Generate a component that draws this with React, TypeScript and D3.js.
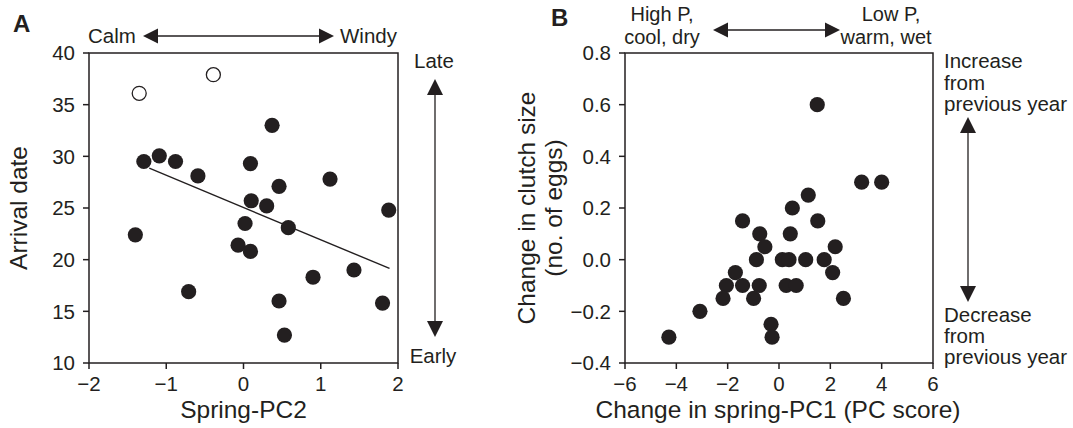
import React from "react";
import * as d3 from "d3";

// Panel A data: Spring-PC2 vs arrival date
const aFilledX = [-1.29, -1.09, -0.88, -0.59, 0.09, 0.37, 0.46, 1.12, 0.1, 0.3, 1.88, 0.02, 0.58, -0.07, 0.09, -1.4, -0.71, 0.9, 1.43, 0.46, 0.53, 1.8];
const aFilledY = [29.5, 30.05, 29.5, 28.1, 29.3, 33.0, 27.1, 27.8, 25.7, 25.2, 24.8, 23.5, 23.1, 21.4, 20.8, 22.4, 16.9, 18.3, 19.0, 16.0, 12.7, 15.8];
const aOpenX = [-1.35, -0.39];
const aOpenY = [36.1, 37.9];
const aLineX = [-1.22, 1.89];
const aLineY = [28.85, 19.15];
const aXTicks = [-2, -1, 0, 1, 2];
const aYTicks = [10, 15, 20, 25, 30, 35, 40];

// Panel B data: change in spring-PC1 vs change in clutch size
const bX = [1.49, 3.22, 4.0, 1.14, 0.52, -1.42, 1.51, -0.75, 0.44, -0.55, 2.19, -0.88, 0.13, 0.39, 1.04, 1.76, -1.7, 2.09, -2.05, -1.42, -0.77, 0.28, 0.67, -2.18, -0.99, 2.51, -3.08, -0.31, -0.27, -4.29];
const bY = [0.6, 0.3, 0.3, 0.25, 0.2, 0.15, 0.15, 0.1, 0.1, 0.05, 0.05, 0, 0, 0, 0, 0, -0.05, -0.05, -0.1, -0.1, -0.1, -0.1, -0.1, -0.15, -0.15, -0.15, -0.2, -0.25, -0.3, -0.3];
const bXTicks = [-6, -4, -2, 0, 2, 4, 6];
const bYTicks = [-0.4, -0.2, 0, 0.2, 0.4, 0.6, 0.8];

const INK = "#231f20";
const FONT = "'Liberation Sans', Arial, Helvetica, sans-serif";
const R = 7.6;
const TICK = 6;
const FS = 20.5;
const FT = 24.5;

function ArrowH({ x1, x2, y }: { x1: number; x2: number; y: number }) {
  const hl = 15, hw = 7.5;
  return (
    <g>
      <line x1={x1 + hl - 1} x2={x2 - hl + 1} y1={y} y2={y} stroke={INK} strokeWidth={1.3} />
      <path d={`M${x1},${y}L${x1 + hl},${y - hw}L${x1 + hl},${y + hw}Z`} fill={INK} />
      <path d={`M${x2},${y}L${x2 - hl},${y - hw}L${x2 - hl},${y + hw}Z`} fill={INK} />
    </g>
  );
}

function ArrowV({ x, y1, y2 }: { x: number; y1: number; y2: number }) {
  const hl = 16, hw = 8;
  return (
    <g>
      <line x1={x} x2={x} y1={y1 + hl - 1} y2={y2 - hl + 1} stroke={INK} strokeWidth={1.3} />
      <path d={`M${x},${y1}L${x - hw},${y1 + hl}L${x + hw},${y1 + hl}Z`} fill={INK} />
      <path d={`M${x},${y2}L${x - hw},${y2 - hl}L${x + hw},${y2 - hl}Z`} fill={INK} />
    </g>
  );
}

function Frame({
  x, y, xTicks, yTicks, fmtX, fmtY,
}: {
  x: d3.ScaleLinear<number, number>;
  y: d3.ScaleLinear<number, number>;
  xTicks: number[];
  yTicks: number[];
  fmtX: (v: number) => string;
  fmtY: (v: number) => string;
}) {
  const [x0, x1] = x.range();
  const [y0, y1] = y.range();
  return (
    <g>
      <rect x={x0} y={y1} width={x1 - x0} height={y0 - y1} fill="none" stroke={INK} strokeWidth={1.5} />
      {xTicks.map((t) => (
        <g key={"x" + t}>
          <line x1={x(t)} x2={x(t)} y1={y0} y2={y0 + TICK} stroke={INK} strokeWidth={1.5} />
          <text x={x(t)} y={y0 + 28} textAnchor="middle" fontSize={FS} fill={INK}>
            {fmtX(t)}
          </text>
        </g>
      ))}
      {yTicks.map((t) => (
        <g key={"y" + t}>
          <line x1={x0 - TICK} x2={x0} y1={y(t)} y2={y(t)} stroke={INK} strokeWidth={1.5} />
          <text x={x0 - 14} y={y(t)} dy="0.36em" textAnchor="end" fontSize={FS} fill={INK}>
            {fmtY(t)}
          </text>
        </g>
      ))}
    </g>
  );
}

export default function App() {
  const xA = d3.scaleLinear().domain([-2, 2]).range([89, 398]);
  const yA = d3.scaleLinear().domain([10, 40]).range([363, 53]);
  const xB = d3.scaleLinear().domain([-6, 6]).range([625, 933]);
  const yB = d3.scaleLinear().domain([-0.4, 0.8]).range([363, 53]);
  const fmtInt = d3.format("d");
  const fmt1 = d3.format(".1f");
  const lineGen = d3
    .line<number>()
    .x((d) => xA(aLineX[d]))
    .y((d) => yA(aLineY[d]));

  return (
    <svg
      width={1073}
      height={428}
      style={{ position: "absolute", left: 0, top: 0, background: "#fff" }}
      fontFamily={FONT}
    >
      <rect width={1073} height={428} fill="#fff" />
      {/* Panel A */}
      <text x={13} y={32} fontSize={24} fontWeight="bold" fill={INK}>A</text>
      <Frame x={xA} y={yA} xTicks={aXTicks} yTicks={aYTicks} fmtX={fmtInt} fmtY={fmtInt} />
      <path d={lineGen([0, 1]) || ""} fill="none" stroke={INK} strokeWidth={1.4} />
      {aFilledX.map((v, i) => (
        <circle key={"af" + i} cx={xA(v)} cy={yA(aFilledY[i])} r={R} fill={INK} />
      ))}
      {aOpenX.map((v, i) => (
        <circle key={"ao" + i} cx={xA(v)} cy={yA(aOpenY[i])} r={R - 0.6} fill="#fff" stroke={INK} strokeWidth={1.3} />
      ))}
      <text x={243.5} y={418} textAnchor="middle" fontSize={FT} fill={INK}>Spring-PC2</text>
      <text transform="translate(27,208) rotate(-90)" textAnchor="middle" fontSize={FT} fill={INK}>Arrival date</text>
      <text x={88} y={43} fontSize={FS} fill={INK}>Calm</text>
      <ArrowH x1={143} x2={334} y={36} />
      <text x={340} y={43} fontSize={FS} fill={INK}>Windy</text>
      <text x={434} y={68} textAnchor="middle" fontSize={FS} fill={INK}>Late</text>
      <ArrowV x={435} y1={79} y2={337} />
      <text x={433} y={363} textAnchor="middle" fontSize={FS} fill={INK}>Early</text>

      {/* Panel B */}
      <text x={551} y={26} fontSize={24} fontWeight="bold" fill={INK}>B</text>
      <Frame x={xB} y={yB} xTicks={bXTicks} yTicks={bYTicks} fmtX={fmtInt} fmtY={fmt1} />
      {bX.map((v, i) => (
        <circle key={"b" + i} cx={xB(v)} cy={yB(bY[i])} r={R} fill={INK} />
      ))}
      <text x={778} y={418} textAnchor="middle" fontSize={FT} fill={INK}>Change in spring-PC1 (PC score)</text>
      <text transform="translate(535,208) rotate(-90)" textAnchor="middle" fontSize={FT} fill={INK}>Change in clutch size</text>
      <text transform="translate(562,208) rotate(-90)" textAnchor="middle" fontSize={FT} fill={INK}>(no. of eggs)</text>
      <text x={662} y={21} textAnchor="middle" fontSize={20} fill={INK}>High P,</text>
      <text x={662} y={44} textAnchor="middle" fontSize={20} fill={INK}>cool, dry</text>
      <ArrowH x1={713} x2={840} y={30} />
      <text x={891} y={21} textAnchor="middle" fontSize={20} fill={INK}>Low P,</text>
      <text x={886} y={44} textAnchor="middle" fontSize={20} fill={INK}>warm, wet</text>
      <text x={944} y={68} fontSize={FS} fill={INK}>Increase</text>
      <text x={944} y={90} fontSize={FS} fill={INK}>from</text>
      <text x={944} y={111} fontSize={FS} fill={INK}>previous year</text>
      <ArrowV x={968} y1={117} y2={302} />
      <text x={944} y={322} fontSize={FS} fill={INK}>Decrease</text>
      <text x={944} y={343} fontSize={FS} fill={INK}>from</text>
      <text x={944} y={364} fontSize={FS} fill={INK}>previous year</text>
    </svg>
  );
}
